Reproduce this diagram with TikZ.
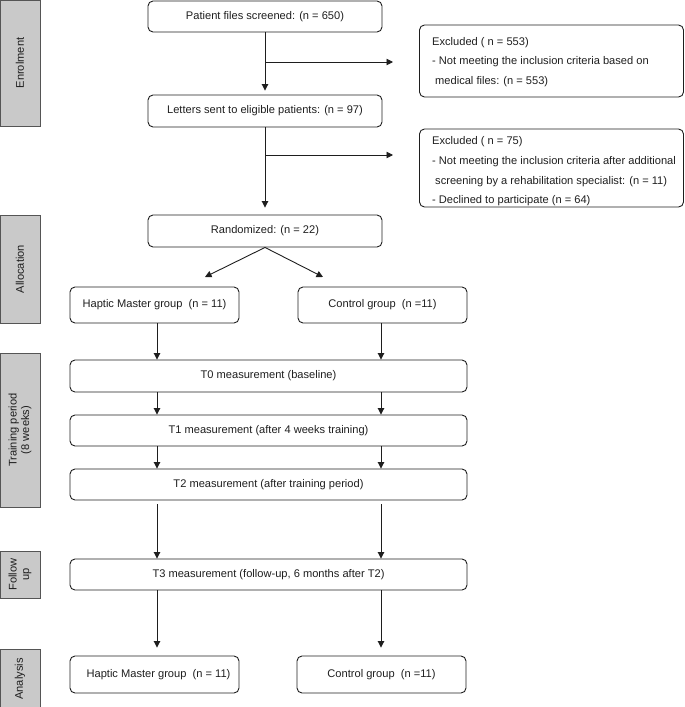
\documentclass[tikz,border=0pt]{standalone}
\usepackage{fontspec}
\setmainfont{Liberation Sans}
\usetikzlibrary{arrows.meta}
\definecolor{ln}{HTML}{1E1E1E}
\definecolor{sidefill}{HTML}{C9C9C9}
\definecolor{sideline}{HTML}{555555}
\begin{document}
\begin{tikzpicture}[x=1pt,y=-1pt,
  box/.style={draw=ln, line width=0.9pt, rounded corners=5pt, inner sep=0pt, font=\fontsize{11.1}{13}\selectfont, text=ln},
  side/.style={draw=sideline, fill=sidefill, line width=0.9pt, inner sep=0pt},
  sidetext/.style={rotate=90, align=center, font=\fontsize{11.1}{12.5}\selectfont, text=ln},
  ex/.style={anchor=base west, inner sep=0pt, font=\fontsize{11.1}{13}\selectfont, text=ln},
  arr/.style={draw=ln, line width=0.9pt, -{Triangle[length=6.5pt,width=6.5pt]}},
]
\useasboundingbox (0,0) rectangle (685,707);

% side labels
\node[side, minimum width=40pt, minimum height=126pt] (enr) at (20,63) {};
\node[sidetext] (enrt) at (enr) {Enrolment};
\node[side, minimum width=40pt, minimum height=108pt] (alc) at (20,269) {};
\node[sidetext] (alct) at (alc) {Allocation};
\node[side, minimum width=40pt, minimum height=154pt] (trn) at (20,430) {};
\node[sidetext] (trnt) at (trn) {Training period\\(8 weeks)};
\node[side, minimum width=40pt, minimum height=47pt] (fol) at (20,574.5) {};
\node[sidetext] (folt) at (fol) {Follow\\up};
\node[side, minimum width=40pt, minimum height=60pt] (ana) at (20,679) {};
\node[sidetext] (anat) at (ana) {Analysis};

% main boxes
\node[box, minimum width=234pt, minimum height=31pt] (scr) at (265,16.5) {Patient files screened: (n = 650)};
\node[box, minimum width=234pt, minimum height=32pt] (let) at (265,111) {Letters sent to eligible patients: (n = 97)};
\node[box, minimum width=264pt, minimum height=72pt] (exa) at (551.5,61) {};
\node[ex] (exa1) at (432,45) {Excluded ( n = 553)};
\node[ex] (exa2) at (432,64.5) {- Not meeting the inclusion criteria based on};
\node[ex] (exa3) at (435,84) {medical files: (n = 553)};
\node[box, minimum width=264pt, minimum height=78pt] (exb) at (551.5,168) {};
\node[ex] (exb1) at (432,144) {Excluded ( n = 75)};
\node[ex] (exb2) at (432,164) {- Not meeting the inclusion criteria after additional};
\node[ex] (exb3) at (435,184) {screening by a rehabilitation specialist: (n = 11)};
\node[ex] (exb4) at (432,203) {- Declined to participate (n = 64)};
\node[box, minimum width=234pt, minimum height=32pt] (rnd) at (265,231) {Randomized: (n = 22)};
\node[box, minimum width=169pt, minimum height=36pt] (hm) at (154.5,305) {Haptic Master group\ \ (n = 11)};
\node[box, minimum width=169pt, minimum height=36pt] (ct) at (382.5,305) {Control group\ \ (n =11)};
\node[box, minimum width=397pt, minimum height=32pt] (t0) at (268.5,376) {T0 measurement (baseline)};
\node[box, minimum width=397pt, minimum height=31pt] (t1) at (268.5,430.5) {T1 measurement (after 4 weeks training)};
\node[box, minimum width=397pt, minimum height=31pt] (t2) at (268.5,484.5) {T2 measurement (after training period)};
\node[box, minimum width=397pt, minimum height=31pt] (t3) at (268.5,574.5) {T3 measurement (follow-up, 6 months after T2)};
\node[box, minimum width=169pt, minimum height=37pt] (hma) at (154.5,674.5) {\hspace{8pt}Haptic Master group\ \ (n = 11)};
\node[box, minimum width=169pt, minimum height=37pt] (cta) at (381.5,674.5) {Control group\ \ (n =11)};

% connectors
\coordinate (b1) at (265,62);
\coordinate (e1) at (393,62);
\coordinate (b2) at (265,155);
\coordinate (e2) at (393,155);
\coordinate (hmt) at (205,277);
\coordinate (ctt) at (323,277);
\draw[arr, shorten >=4pt] (scr) -- (let);
\draw[arr] (b1) -- (e1);
\draw[arr, shorten >=7pt] (let) -- (rnd);
\draw[arr] (b2) -- (e2);
\draw[arr] (rnd.south) -- (hmt);
\draw[arr] (rnd.south) -- (ctt);
\draw[arr] (hm.south -| 157,0) -- (t0.north -| 157,0);
\draw[arr] (ct.south -| 381,0) -- (t0.north -| 381,0);
\draw[arr] (t0.south -| 157,0) -- (t1.north -| 157,0);
\draw[arr] (t0.south -| 381,0) -- (t1.north -| 381,0);
\draw[arr] (t1.south -| 157,0) -- (t2.north -| 157,0);
\draw[arr] (t1.south -| 381,0) -- (t2.north -| 381,0);
\draw[arr, shorten <=4pt] (t2.south -| 157,0) -- (t3.north -| 157,0);
\draw[arr, shorten <=4pt] (t2.south -| 381,0) -- (t3.north -| 381,0);
\draw[arr, shorten >=8pt] (t3.south -| 157,0) -- (hma.north -| 157,0);
\draw[arr, shorten >=8pt] (t3.south -| 381,0) -- (cta.north -| 381,0);
\end{tikzpicture}
\end{document}
